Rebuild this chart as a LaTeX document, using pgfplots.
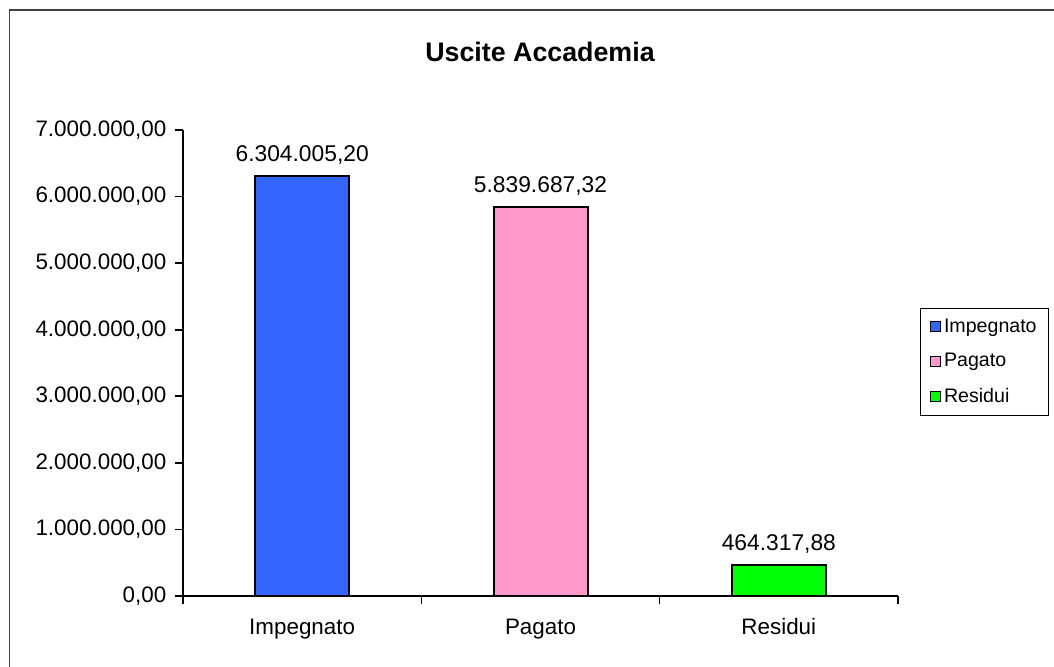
\documentclass[border=0pt]{standalone}
\usepackage{fontspec}
\setmainfont{Liberation Sans}
\usepackage{pgfplots}
\pgfplotsset{compat=1.18}
\definecolor{cblue}{HTML}{3366FF}
\definecolor{cpink}{HTML}{FF99CC}
\definecolor{cgreen}{HTML}{00FF00}
\begin{document}
\begin{tikzpicture}
\useasboundingbox (0,0) rectangle (527pt,333pt);
\draw[black!75, line width=0.75pt] (4.75pt,-1pt) -- (4.75pt,328pt) -- (528pt,328pt);
\node[font=\fontsize{13.4}{16}\selectfont\bfseries] at (270pt,307pt) {Uscite Accademia};
\begin{axis}[
  at={(91.5pt,35pt)}, anchor=origin,
  scale only axis, width=357.5pt, height=233pt,
  xmin=0, xmax=3, ymin=0, ymax=7000000,
  axis x line*=bottom, axis y line*=left,
  axis line style={-, line width=0.8pt, black},
  tick align=outside, major tick length=3.8pt,
  tick style={line width=0.8pt, black},
  xtick={0,1,2,3}, xticklabels={,,,},
  extra x ticks={0.5,1.5,2.5},
  extra x tick labels={Impegnato,Pagato,Residui},
  extra x tick style={tick style={draw=none}},
  ytick={0,1000000,2000000,3000000,4000000,5000000,6000000,7000000},
  yticklabels={{0,00},{1.000.000,00},{2.000.000,00},{3.000.000,00},{4.000.000,00},{5.000.000,00},{6.000.000,00},{7.000.000,00}},
  scaled y ticks=false,
  ticklabel style={font=\fontsize{11.2}{13}\selectfont},
  yticklabel style={xshift=-1pt},
  xticklabel style={yshift=-4pt},
  ybar, bar width=47pt, bar shift=0pt,
  clip=false,
  every node near coord/.append style={font=\fontsize{11.4}{13}\selectfont, yshift=2pt, black},
  legend style={at={(1.0308,0.618)}, anchor=north west, draw=black, line width=0.6pt,
    font=\fontsize{9.8}{11}\selectfont, inner xsep=4.5pt, inner ysep=3pt,
    row sep=5.2pt, cells={anchor=west}, nodes={inner xsep=1.5pt}},
  legend image code/.code={\draw[#1, line width=0.7pt] (0pt,-2.4pt) rectangle (5pt,2.6pt);},
]
\addplot[fill=cblue, draw=black, line width=1pt, nodes near coords={6.304.005,20}] coordinates {(0.5,6304005.20)};
\addlegendentry{Impegnato}
\addplot[fill=cpink, draw=black, line width=1pt, nodes near coords={5.839.687,32}] coordinates {(1.5,5839687.32)};
\addlegendentry{Pagato}
\addplot[fill=cgreen, draw=black, line width=1pt, nodes near coords={464.317,88}] coordinates {(2.5,464317.88)};
\addlegendentry{Residui}
\end{axis}
\end{tikzpicture}
\end{document}
